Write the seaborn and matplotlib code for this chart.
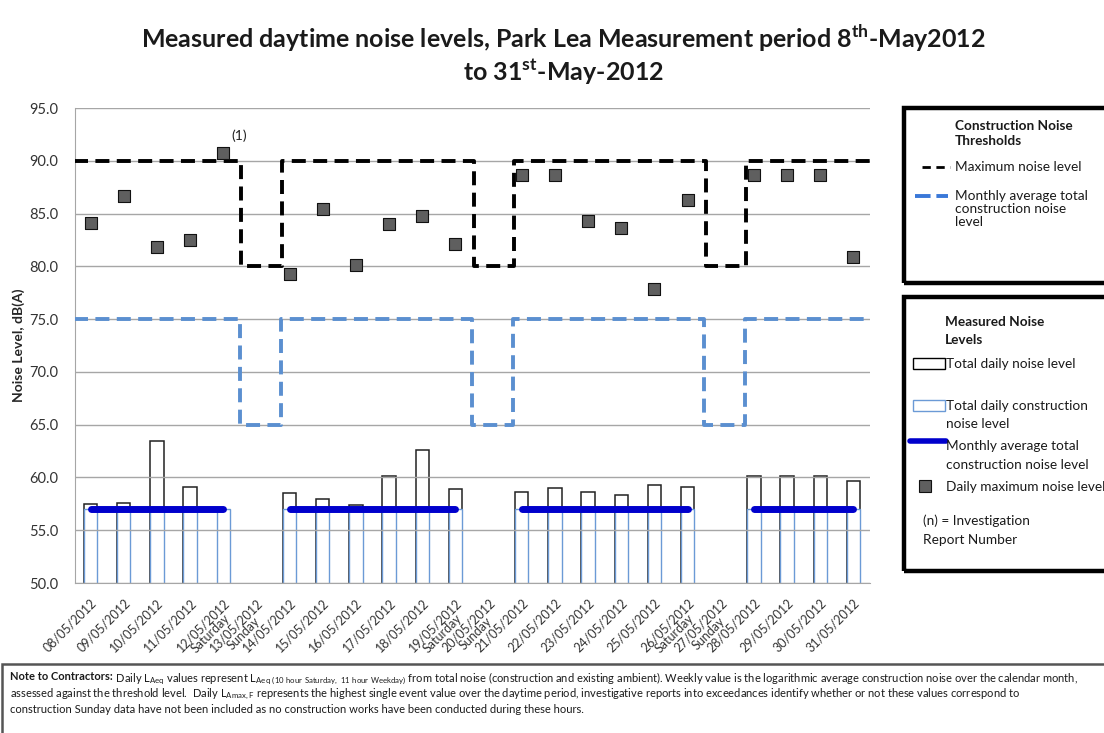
import numpy as np
import pandas as pd
import seaborn as sns
import matplotlib.pyplot as plt
from matplotlib.patches import Rectangle
from matplotlib.lines import Line2D

# data
dates = ['08/05/2012', '09/05/2012', '10/05/2012', '11/05/2012', '12/05/2012', '13/05/2012',
         '14/05/2012', '15/05/2012', '16/05/2012', '17/05/2012', '18/05/2012', '19/05/2012',
         '20/05/2012', '21/05/2012', '22/05/2012', '23/05/2012', '24/05/2012', '25/05/2012',
         '26/05/2012', '27/05/2012', '28/05/2012', '29/05/2012', '30/05/2012', '31/05/2012']
day_names = ['', '', '', '', 'Saturday', 'Sunday', '', '', '', '', '', 'Saturday',
             'Sunday', '', '', '', '', '', 'Saturday', 'Sunday', '', '', '', '']
total_noise = [57.5, 57.6, 63.5, 59.1, None, None, 58.5, 58.0, 57.4, 60.1, 62.6, 58.9,
               None, 58.6, 59.0, 58.6, 58.3, 59.3, 59.1, None, 60.1, 60.1, 60.1, 59.7]
construction_noise = [57.0, 57.0, 57.0, 57.0, 57.0, None, 57.0, 57.0, 57.0, 57.0, 57.0, 57.0,
                      None, 57.0, 57.0, 57.0, 57.0, 57.0, 57.0, None, 57.0, 57.0, 57.0, 57.0]
daily_max = [84.1, 86.7, 81.8, 82.5, 90.7, None, 79.3, 85.4, 80.1, 84.0, 84.8, 82.1,
             None, 88.7, 88.7, 84.3, 83.6, 77.9, 86.3, None, 88.7, 88.7, 88.7, 80.9]
max_threshold = [90, 90, 90, 90, 90, 80, 90, 90, 90, 90, 90, 90,
                 80, 90, 90, 90, 90, 90, 90, 80, 90, 90, 90, 90]
avg_threshold = [75, 75, 75, 75, 75, 65, 75, 75, 75, 75, 75, 75,
                 65, 75, 75, 75, 75, 75, 75, 65, 75, 75, 75, 75]
monthly_avg = 57.0
week_starts = ['08/05/2012', '14/05/2012', '21/05/2012', '28/05/2012']
week_ends = ['12/05/2012', '19/05/2012', '26/05/2012', '31/05/2012']
report_day = '12/05/2012'

FONT = ['Lato', 'DejaVu Sans']
BLUE_DASH = '#5b8fd0'
BLUE_BAR = '#6b9ad6'
NAVY = '#0000cc'

sns.set_style('white')
plt.rcParams['font.family'] = FONT
plt.rcParams['mathtext.fontset'] = 'custom'
plt.rcParams['mathtext.rm'] = 'Lato'
plt.rcParams['mathtext.bf'] = 'Lato:bold'


def step_path(values, drop_off=0.55, rise_off=0.25):
    '''Builds a stepped path that changes level between the days'''
    xs, ys = [-0.5], [values[0]]
    for i in range(1, len(values)):
        if values[i] != values[i - 1]:
            xt = i - 1 + drop_off if values[i] < values[i - 1] else i - rise_off
            xs += [xt, xt]
            ys += [values[i - 1], values[i]]
    xs.append(len(values) - 0.5)
    ys.append(values[-1])
    return xs, ys


df = pd.DataFrame({'day': list(range(len(dates))),
                   'total': pd.array(total_noise, dtype='Float64').astype(float),
                   'construction': pd.array(construction_noise, dtype='Float64').astype(float),
                   'max': pd.array(daily_max, dtype='Float64').astype(float)})
order = list(range(len(dates)))

fig = plt.figure(figsize=(11.04, 7.33), dpi=100)
ax = fig.add_axes([75 / 1104, 1 - 583 / 733, 795 / 1104, 475 / 733])

# bars
sns.barplot(data=df.dropna(subset=['total']), x='day', y='total', order=order,
            fill=False, color='#222222', linewidth=1.1, width=0.4, errorbar=None, ax=ax)
sns.barplot(data=df.dropna(subset=['construction']), x='day', y='construction', order=order,
            color='white', saturation=1, edgecolor=BLUE_BAR, linewidth=1.0, width=0.4,
            errorbar=None, ax=ax)

# threshold lines
xs, ys = step_path(max_threshold, 0.55, 0.23)
sns.lineplot(x=xs, y=ys, sort=False, estimator=None, color='black', linewidth=2.8,
             linestyle=(0, (3.6, 1.9)), ax=ax, zorder=3)
xs, ys = step_path(avg_threshold, 0.5, 0.27)
sns.lineplot(x=xs, y=ys, sort=False, estimator=None, color=BLUE_DASH, linewidth=2.8,
             linestyle=(0, (3.6, 1.9)), ax=ax, zorder=3)

# monthly average construction noise
for s, e in zip(week_starts, week_ends):
    sns.lineplot(x=[dates.index(s), dates.index(e)], y=[monthly_avg, monthly_avg],
                 estimator=None, color=NAVY, linewidth=5, solid_capstyle='round',
                 ax=ax, zorder=4)

# daily maximum
sns.scatterplot(data=df, x='day', y='max', marker='s', s=75, color='#5f5f5f',
                edgecolor='#111111', linewidth=0.8, ax=ax, zorder=5)
ri = dates.index(report_day)
ax.annotate('(1)', xy=(ri, daily_max[ri]), xytext=(6, 10), textcoords='offset points',
            fontsize=10, color='#222222')

ax.set_ylim(50, 95)
ax.set_xlim(-0.47, 23.5)
ax.set_yticks(np.arange(50, 96, 5))
ax.set_yticklabels([f'{v:.1f}' for v in np.arange(50, 96, 5)], fontsize=10.5, color='#333333')
ax.set_xticks(order)
ax.set_xticklabels([d + ('\n' + n if n else '') for d, n in zip(dates, day_names)],
                   rotation=45, ha='right', rotation_mode='anchor', fontsize=9,
                   multialignment='center', linespacing=0.9, color='#333333')
ax.tick_params(axis='x', length=0, pad=10)
ax.tick_params(axis='y', length=0, pad=12)
ax.set_xlabel('')
ax.set_ylabel('Noise Level, dB(A)', fontsize=10, fontweight='bold', labelpad=3)
ax.yaxis.grid(True, color='#a6a6a6', linewidth=1)
ax.set_axisbelow('line')
for side in ['top', 'right']:
    ax.spines[side].set_visible(False)
for side in ['left', 'bottom']:
    ax.spines[side].set_color('#a6a6a6')

# title
fig.text(0.51, 1 - 38 / 733,
         r'Measured daytime noise levels, Park Lea Measurement period 8$^{\mathbf{th}}$-May2012',
         ha='center', va='center', fontsize=18, fontweight='bold', color='#1a1a1a')
fig.text(0.51, 1 - 72 / 733, r'to 31$^{\mathbf{st}}$-May-2012',
         ha='center', va='center', fontsize=18, fontweight='bold', color='#1a1a1a')


def fx(px):
    return px / 1104


def fy(py):
    return 1 - py / 733


# legend boxes
for top, bot in [(108, 283), (297, 571)]:
    fig.add_artist(Rectangle((fx(904), fy(bot)), fx(260), fy(top) - fy(bot),
                             transform=fig.transFigure, fill=False, lw=3.2,
                             edgecolor='black', clip_on=False))

lk = dict(fontsize=9.8, color='#1a1a1a', va='center')
fig.text(fx(955), fy(126), 'Construction Noise', fontweight='bold', **lk)
fig.text(fx(955), fy(141), 'Thresholds', fontweight='bold', **lk)
fig.add_artist(Line2D([fx(922), fx(950)], [fy(167), fy(167)], color='black', lw=2,
                      linestyle=(0, (3, 2, 3, 2, 1, 2)), transform=fig.transFigure))
fig.text(fx(955), fy(167), 'Maximum noise level', **lk)
fig.add_artist(Line2D([fx(915), fx(948)], [fy(196), fy(196)], color='#3a78d8', lw=2.8,
                      linestyle=(0, (4, 1.5)), transform=fig.transFigure))
for t, y in [('Monthly average total', 196), ('construction noise', 209), ('level', 222)]:
    fig.text(fx(955), fy(y), t, **lk)

fig.text(fx(945), fy(322), 'Measured Noise', fontweight='bold', **lk)
fig.text(fx(945), fy(340), 'Levels', fontweight='bold', **lk)
fig.add_artist(Rectangle((fx(913), fy(369)), fx(32), fy(358) - fy(369), fill=False,
                         edgecolor='black', lw=1, transform=fig.transFigure))
fig.text(fx(946), fy(364), 'Total daily noise level', **lk)
fig.add_artist(Rectangle((fx(913), fy(411)), fx(32), fy(400) - fy(411), fill=False,
                         edgecolor=BLUE_BAR, lw=1, transform=fig.transFigure))
fig.text(fx(946), fy(406), 'Total daily construction', **lk)
fig.text(fx(946), fy(424), 'noise level', **lk)
fig.add_artist(Line2D([fx(910), fx(946)], [fy(441), fy(441)], color=NAVY, lw=4,
                      transform=fig.transFigure))
fig.text(fx(946), fy(446), 'Monthly average total', **lk)
fig.text(fx(946), fy(465), 'construction noise level', **lk)
fig.add_artist(Line2D([fx(925)], [fy(486)], marker='s', markersize=8, color='#5f5f5f',
                      markeredgecolor='#111111', markeredgewidth=0.8, transform=fig.transFigure))
fig.text(fx(946), fy(487), 'Daily maximum noise level', **lk)
fig.text(fx(923), fy(521), '(n) = Investigation', **lk)
fig.text(fx(923), fy(540), 'Report Number', **lk)

# note box
fig.add_artist(Rectangle((fx(2), fy(760)), fx(1120), fy(664) - fy(760), fill=False,
                         edgecolor='#555555', lw=1.8, transform=fig.transFigure))
nk = dict(fontsize=8.0, color='#1a1a1a', va='baseline')
t1 = fig.text(fx(10), fy(680), 'Note to Contractors:', fontweight='bold', **nk)
ax.annotate(r' Daily L$_{\mathrm{Aeq}}$ values represent L$_{\mathrm{Aeq\ (10\ hour\ Saturday,\ 11\ hour\ Weekday)}}$'
            ' from total noise (construction and existing ambient). Weekly value is the logarithmic'
            ' average construction noise over the calendar month,',
            xy=(1, 0), xycoords=t1, annotation_clip=False, **nk)
fig.text(fx(10), fy(697), r'assessed against the threshold level.  Daily L$_{\mathrm{Amax,F}}$ represents the'
         ' highest single event value over the daytime period, investigative reports into exceedances'
         ' identify whether or not these values correspond to', **nk)
fig.text(fx(10), fy(713), 'construction Sunday data have not been included as no construction works'
         ' have been conducted during these hours.', **nk)

fig.savefig('out.png', dpi=100)
